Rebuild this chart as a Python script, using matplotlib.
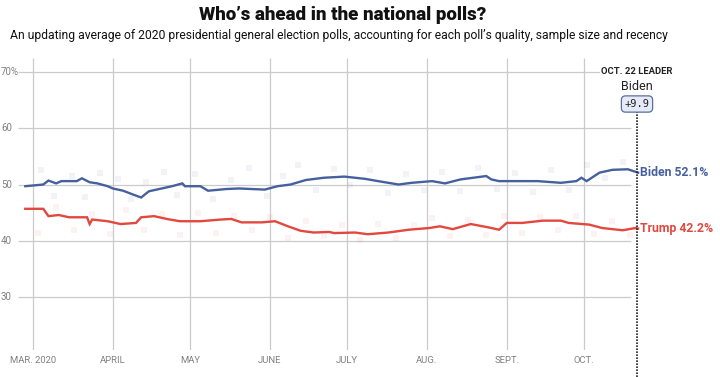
import numpy as np
import pandas as pd
import matplotlib
matplotlib.use("Agg")
import matplotlib.pyplot as plt
import matplotlib.transforms as mtransforms
from matplotlib.lines import Line2D

# --- data --------------------------------------------------------------------
biden_dates = ["2020-02-27", "2020-03-05", "2020-03-07", "2020-03-10", "2020-03-12",
               "2020-03-18", "2020-03-20", "2020-03-23", "2020-03-26", "2020-03-30",
               "2020-04-01", "2020-04-05", "2020-04-09", "2020-04-12", "2020-04-15",
               "2020-04-19", "2020-04-24", "2020-04-28", "2020-04-29", "2020-05-05",
               "2020-05-08", "2020-05-15", "2020-05-20", "2020-05-25", "2020-05-30",
               "2020-06-04", "2020-06-09", "2020-06-15", "2020-06-22", "2020-06-30",
               "2020-07-08", "2020-07-13", "2020-07-21", "2020-07-26", "2020-08-03",
               "2020-08-08", "2020-08-14", "2020-08-24", "2020-08-26", "2020-08-29",
               "2020-09-06", "2020-09-13", "2020-09-22", "2020-09-28", "2020-09-30",
               "2020-10-02", "2020-10-07", "2020-10-12", "2020-10-18", "2020-10-22"]
biden_avg = [49.7, 50.0, 50.7, 50.2, 50.6, 50.6, 51.1, 50.4, 50.2, 49.7,
             49.3, 48.9, 48.2, 47.7, 48.8, 49.2, 49.7, 50.2, 49.7, 49.7,
             48.9, 49.2, 49.3, 49.2, 49.1, 49.7, 50.0, 50.8, 51.2, 51.4,
             51.0, 50.6, 50.0, 50.3, 50.6, 50.2, 50.9, 51.5, 50.9, 50.6,
             50.6, 50.6, 50.3, 50.6, 51.2, 50.6, 52.1, 52.6, 52.7, 52.1]

trump_dates = ["2020-02-27", "2020-03-05", "2020-03-07", "2020-03-11", "2020-03-15",
               "2020-03-22", "2020-03-23", "2020-03-24", "2020-03-30", "2020-04-04",
               "2020-04-10", "2020-04-12", "2020-04-17", "2020-04-22", "2020-04-27",
               "2020-05-05", "2020-05-13", "2020-05-17", "2020-05-21", "2020-05-29",
               "2020-06-03", "2020-06-08", "2020-06-13", "2020-06-18", "2020-06-24",
               "2020-06-26", "2020-07-04", "2020-07-09", "2020-07-17", "2020-07-25",
               "2020-08-02", "2020-08-06", "2020-08-11", "2020-08-18", "2020-08-25",
               "2020-08-29", "2020-09-01", "2020-09-07", "2020-09-15", "2020-09-22",
               "2020-09-25", "2020-10-03", "2020-10-08", "2020-10-16", "2020-10-21",
               "2020-10-22"]
trump_avg = [45.7, 45.7, 44.4, 44.6, 44.2, 44.2, 43.0, 43.8, 43.5, 43.0,
             43.2, 44.2, 44.4, 43.9, 43.5, 43.5, 43.8, 43.9, 43.3, 43.3,
             43.5, 42.6, 41.8, 41.5, 41.6, 41.4, 41.5, 41.2, 41.5, 42.0,
             42.3, 42.6, 42.1, 43.0, 42.4, 42.0, 43.2, 43.2, 43.6, 43.6,
             43.2, 42.9, 42.3, 41.9, 42.3, 42.2]

# faint individual polls behind the averages
biden_poll_dates = ["2020-03-04", "2020-03-09", "2020-03-16", "2020-03-21", "2020-03-27",
                    "2020-04-03", "2020-04-08", "2020-04-14", "2020-04-21", "2020-04-26",
                    "2020-05-03", "2020-05-10", "2020-05-17", "2020-05-24", "2020-05-31",
                    "2020-06-06", "2020-06-12", "2020-06-19", "2020-06-26", "2020-07-02",
                    "2020-07-10", "2020-07-17", "2020-07-24", "2020-07-31", "2020-08-07",
                    "2020-08-14", "2020-08-21", "2020-08-28", "2020-09-04", "2020-09-11",
                    "2020-09-18", "2020-09-25", "2020-10-02", "2020-10-09", "2020-10-16"]
biden_poll_vals = [52.5, 48.0, 51.5, 47.8, 52.0, 51.0, 47.5, 50.5, 52.3, 48.2,
                   51.8, 47.5, 50.8, 53.0, 47.9, 51.5, 53.5, 49.0, 52.8, 50.0,
                   52.5, 48.5, 51.8, 49.0, 52.2, 48.8, 53.0, 49.2, 52.0, 48.6,
                   52.5, 49.0, 53.5, 51.2, 54.0]
trump_poll_dates = ["2020-03-03", "2020-03-10", "2020-03-17", "2020-03-24", "2020-03-31",
                    "2020-04-06", "2020-04-13", "2020-04-20", "2020-04-27", "2020-05-04",
                    "2020-05-11", "2020-05-18", "2020-05-25", "2020-06-01", "2020-06-08",
                    "2020-06-15", "2020-06-22", "2020-06-29", "2020-07-06", "2020-07-13",
                    "2020-07-20", "2020-07-27", "2020-08-03", "2020-08-10", "2020-08-17",
                    "2020-08-24", "2020-08-31", "2020-09-07", "2020-09-14", "2020-09-21",
                    "2020-09-28", "2020-10-05", "2020-10-12", "2020-10-19"]
trump_poll_vals = [41.5, 46.0, 42.0, 44.8, 41.2, 45.5, 42.0, 44.8, 41.0, 45.0,
                   41.5, 44.5, 42.0, 44.2, 40.5, 43.5, 40.8, 42.8, 40.2, 43.0,
                   40.5, 42.8, 44.0, 40.8, 43.8, 41.0, 44.5, 41.5, 44.2, 42.0,
                   44.5, 41.2, 43.5, 41.0]

month_starts = ["2020-03-01", "2020-04-01", "2020-05-01", "2020-06-01",
                "2020-07-01", "2020-08-01", "2020-09-01", "2020-10-01"]
month_labels = ["MAR. 2020", "APRIL", "MAY", "JUNE", "JULY", "AUG.", "SEPT.", "OCT."]
y_ticks = [30, 40, 50, 60, 70]
y_labels = ["30", "40", "50", "60", "70%"]

leader_name = "Biden"
leader_margin = "+9.9"

# --- styling -----------------------------------------------------------------
plt.rcParams["font.family"] = ["Roboto", "DejaVu Sans"]

BLUE = "#46609f"
RED = "#e2483d"
GRID = "#cbcbcb"
TICK = "#808080"

W, H = 720, 377
fig = plt.figure(figsize=(W / 100, H / 100), dpi=100)


def fx(px):
    return px / W


def fy(py):
    return 1 - py / H


mar1 = pd.Timestamp("2020-03-01")
px_per_day = 2.575
ax = fig.add_axes([fx(18), fy(350), fx(643 - 18), (350 - 58) / H])
ax.set_xlim(mar1 - pd.Timedelta(days=15 / px_per_day), mar1 + pd.Timedelta(days=610 / px_per_day))
ax.set_ylim(20.7, 72.4)
for s in ax.spines.values():
    s.set_visible(False)

grid_end = mar1 + pd.Timedelta(days=598 / px_per_day)
ax.hlines(y_ticks, ax.get_xlim()[0], grid_end, color=GRID, lw=0.9, zorder=0)
ax.vlines(pd.to_datetime(month_starts), 20.7, 72.4, color=GRID, lw=0.9, zorder=0)

ax.scatter(pd.to_datetime(biden_poll_dates), biden_poll_vals, marker="s", s=14,
           color=BLUE, alpha=0.07, lw=0, zorder=1)
ax.scatter(pd.to_datetime(trump_poll_dates), trump_poll_vals, marker="s", s=14,
           color=RED, alpha=0.07, lw=0, zorder=1)

ax.plot(pd.to_datetime(biden_dates), biden_avg, color=BLUE, lw=1.7, zorder=3,
        solid_joinstyle="miter")
ax.plot(pd.to_datetime(trump_dates), trump_avg, color=RED, lw=1.7, zorder=3,
        solid_joinstyle="miter")

ax.annotate("Biden %.1f%%" % biden_avg[-1], (pd.Timestamp(biden_dates[-1]), biden_avg[-1]),
            xytext=(1, 0), textcoords="offset points", va="center", ha="left",
            color=BLUE, fontsize=8.8, fontweight="bold", annotation_clip=False)
ax.annotate("Trump %.1f%%" % trump_avg[-1], (pd.Timestamp(trump_dates[-1]), trump_avg[-1]),
            xytext=(1, 0), textcoords="offset points", va="center", ha="left",
            color=RED, fontsize=8.8, fontweight="bold", annotation_clip=False)

ax.set_xticks(pd.to_datetime(month_starts))
ax.set_xticklabels(month_labels, color=TICK, fontsize=6.8)
ax.tick_params(axis="x", length=0, pad=4)
ax.set_yticks([])

ylab_tr = mtransforms.blended_transform_factory(fig.transFigure, ax.transData)
for v, lab in zip(y_ticks, y_labels):
    ax.text(fx(1), v, lab, transform=ylab_tr, ha="left", va="center",
            color=TICK, fontsize=7)

# leader marker
lx = fx(637)
fig.add_artist(Line2D([lx, lx], [0, fy(111)], color="#222222", lw=1.2,
                      linestyle=(0, (1, 0.8)), zorder=2))
fig.text(lx, fy(71), "OCT. 22 LEADER", ha="center", va="center", fontsize=6.8,
         fontweight="bold", color="#222222",
         bbox=dict(boxstyle="square,pad=0.15", fc="white", ec="none"))
fig.text(lx, fy(87), leader_name, ha="center", va="center", fontsize=9, color="#222222")
fig.text(lx, fy(104), leader_margin, ha="center", va="center", fontsize=7.5,
         family="DejaVu Sans Mono", color="#222222",
         bbox=dict(boxstyle="round,pad=0.3,rounding_size=0.4", fc="#e4eaf6", ec="#5b6d9e", lw=0.9))

fig.text(fx(343), fy(15), "Who\u2019s ahead in the national polls?", ha="center", va="center",
         fontsize=13.5, fontweight="black", color="#111111")
fig.text(fx(10), fy(36), "An updating average of 2020 presidential general election polls, "
         "accounting for each poll\u2019s quality, sample size and recency",
         ha="left", va="center", fontsize=8.7, color="#111111")

fig.savefig("out.png", dpi=100, facecolor="white")
